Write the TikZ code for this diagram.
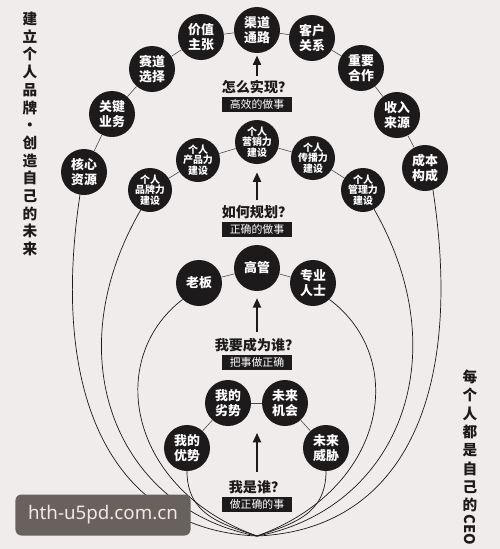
\documentclass[tikz,border=0pt]{standalone}
\usepackage{fontspec}
\setmainfont{Noto Sans CJK SC}
\setsansfont{Noto Sans}
\usetikzlibrary{positioning,arrows.meta}
\definecolor{bg1}{HTML}{EFECEB}
\definecolor{ink1}{HTML}{1C1A1A}
\definecolor{line1}{HTML}{4A4747}
\definecolor{mark1}{HTML}{67625B}
\definecolor{marktext}{HTML}{F3E6E6}

\begin{document}
\begin{tikzpicture}[
    x=0.03cm, y=-0.03cm,
    ball/.style={circle, fill=ink1, text=white, inner sep=0pt,
                 minimum size=1.38cm, align=center,
                 font=\bfseries\fontsize{11}{12.5}\selectfont},
    sball/.style={ball, minimum size=1.32cm,
                  font=\bfseries\fontsize{8.5}{9.2}\selectfont},
    link/.style={line1, line width=0.5pt},
    ucurve/.style={ink1, line width=0.6pt},
    qhead/.style={font=\bfseries\fontsize{12}{14}\selectfont,
                  text=ink1, inner sep=1pt},
    qtag/.style={fill=ink1, text=white, inner sep=1pt,
                 minimum width=2.07cm, minimum height=0.45cm,
                 font=\fontsize{9.3}{10}\selectfont},
    qarrow/.style={-{Triangle[width=7pt,length=8pt]}, line width=1.3pt,
                   ink1},
    sidetext/.style={font=\bfseries\fontsize{12.5}{15.1}\selectfont,
                     text=ink1, align=center, inner sep=0pt},
]

\fill[bg1] (0,0) rectangle (500,549);

% ── 怎么实现 ──
\node[ball] (hexin)    at (84,172)  {核心\\资源};
\node[ball] (guanjian) at (112,114) {关键\\业务};
\node[ball] (saidao)   at (152,69)  {赛道\\选择};
\node[ball] (jiazhi)   at (201,37)  {价值\\主张};
\node[ball] (qudao)    at (257,30)  {渠道\\通路};
\node[ball] (kehu)     at (312,38)  {客户\\关系};
\node[ball] (zhongyao) at (361,68)  {重要\\合作};
\node[ball] (shouru)   at (397,115) {收入\\来源};
\node[ball] (chengben) at (425,168) {成本\\构成};

% ── 如何规划 ──
\node[sball] (pinpai)   at (150,190) {个人\\品牌力\\建设};
\node[sball] (chanpin)  at (198,160) {个人\\产品力\\建设};
\node[sball] (yingxiao) at (257,142) {个人\\营销力\\建设};
\node[sball] (chuanbo)  at (313,158) {个人\\传播力\\建设};
\node[sball] (guanli)   at (363,190) {个人\\管理力\\建设};

% ── 我要成为谁 ──
\node[ball] (laoban)  at (199,283) {老板};
\node[ball] (gaoguan) at (257,268) {高管};
\node[ball] (zhuanye) at (313,283) {专业\\人士};

% ── 我是谁 ──
\node[ball] (lieshi) at (228,403) {我的\\劣势};
\node[ball] (jihui)  at (285,403) {未来\\机会};
\node[ball] (youshi) at (187,448) {我的\\优势};
\node[ball] (weixie) at (326,448) {未来\\威胁};

% ── links along each ring ──
\foreach \a/\b in {hexin/guanjian, guanjian/saidao, saidao/jiazhi,
                   jiazhi/qudao, qudao/kehu, kehu/zhongyao,
                   zhongyao/shouru, shouru/chengben,
                   pinpai/chanpin, chanpin/yingxiao, yingxiao/chuanbo,
                   chuanbo/guanli,
                   laoban/gaoguan, gaoguan/zhuanye,
                   youshi/lieshi, lieshi/jihui, jihui/weixie}
    \draw[link] (\a) -- (\b);

% ── big loops down to the base ──
\coordinate (base) at (257,536);
\draw[ucurve] (hexin.260)    .. controls (49,400) and (114,530) .. (base);
\draw[ucurve] (pinpai.245)   .. controls (54,360) and (119,510) .. (base);
\draw[ucurve] (laoban.225)   .. controls (104,360) and (129,490) .. (base);
\draw[ucurve] (youshi.south) .. controls (187,515) and (222,524) .. (base);
\draw[ucurve] (chengben.290) .. controls (465,400) and (400,530) .. (base);
\draw[ucurve] (guanli.300)   .. controls (460,360) and (395,510) .. (base);
\draw[ucurve] (zhuanye.315)  .. controls (410,360) and (385,490) .. (base);
\draw[ucurve] (weixie.south) .. controls (326,515) and (292,524) .. (base);

% ── questions and arrows ──
\node[qhead] (howdo) at (257,87) {怎么实现？};
\node[qtag, below=1pt of howdo] (howdotag) {高效的做事};
\draw[qarrow] ([yshift=2pt]howdo.north) -- ([yshift=-2pt]qudao.south);

\node[qhead] (plan) at (257,212) {如何规划？};
\node[qtag, below=1pt of plan] (plantag) {正确的做事};
\draw[qarrow] ([yshift=3pt]plan.north) -- ([yshift=-7pt]yingxiao.south);

\node[qhead] (become) at (257,345) {我要成为谁？};
\node[qtag, below=1pt of become] (becometag) {把事做正确};
\draw[qarrow] ([yshift=4pt]become.north) -- ([yshift=-6pt]gaoguan.south);

\coordinate (whotip) at (257,433);
\node[qhead] (who) at (257,487) {我是谁？};
\node[qtag, below=1pt of who] (whotag) {做正确的事};
\draw[qarrow] ([yshift=6pt]who.north) -- (whotip);

% ── side titles ──
\node[sidetext] (lefttitle) at (30,134)
    {建\\立\\个\\人\\品\\牌\\·\\创\\造\\自\\己\\的\\未\\来};
\node[sidetext, font=\bfseries\fontsize{12.5}{15.6}\selectfont]
    (righttitle) at (470,441) {每\\个\\人\\都\\是\\自\\己\\的};
\node[sidetext, rotate=-90, anchor=west] (ceo)
    at ([yshift=-2pt]righttitle.south) {CEO};

% ── watermark ──
\node[fill=mark1, rounded corners=5pt, text=marktext,
      minimum width=5.25cm, minimum height=1.23cm,
      font=\sffamily\fontsize{16}{18}\selectfont] (wm) at (103,515)
    {hth-u5pd.com.cn};

\end{tikzpicture}
\end{document}
